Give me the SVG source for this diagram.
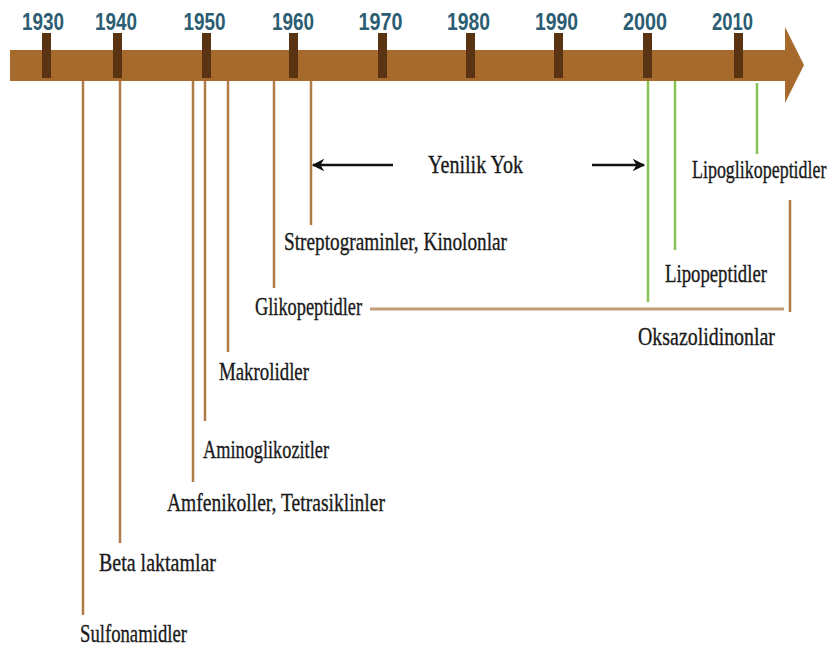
<svg xmlns="http://www.w3.org/2000/svg" width="831" height="649" viewBox="0 0 831 649">
<defs>
<style>
.yr{font-family:"Liberation Sans",Arial,sans-serif;font-weight:bold;font-size:24px;fill:#2c5d72;text-anchor:middle}
.tick{fill:#5a3312}
.lbl{font-family:"Liberation Serif","Times New Roman",serif;font-size:26px;fill:#1a1a1a;stroke:#1a1a1a;stroke-width:0.35}
.br{stroke:#b07b47;stroke-width:2.5;fill:none}
.gr{stroke:#86c254;stroke-width:2.5;fill:none}
.hz{stroke:#c39c78;stroke-width:3;fill:none}
.ar{stroke:#111;stroke-width:2.5;fill:none}
</style>
<marker id="ah" viewBox="0 0 10 10" refX="9" refY="5" markerWidth="5" markerHeight="5" orient="auto-start-reverse" markerUnits="strokeWidth">
<path d="M0,0 L10,5 L0,10 L3,5 Z" fill="#111"/>
</marker>
</defs>
<rect width="831" height="649" fill="#fff"/>
<g id="axis">
<rect x="10" y="50" width="776" height="31" fill="#a76a2d"/>
<polygon points="785,27 804,65 785,103" fill="#a76a2d"/>
<rect class="tick" x="42" y="33" width="9" height="45"/>
<rect class="tick" x="113" y="33" width="9" height="45"/>
<rect class="tick" x="202" y="33" width="9" height="45"/>
<rect class="tick" x="289" y="33" width="9" height="45"/>
<rect class="tick" x="378" y="33" width="9" height="45"/>
<rect class="tick" x="466" y="33" width="9" height="45"/>
<rect class="tick" x="554" y="33" width="9" height="45"/>
<rect class="tick" x="643" y="33" width="9" height="45"/>
<rect class="tick" x="734" y="33" width="9" height="45"/>
<text class="yr" x="43" y="30" textLength="42" lengthAdjust="spacingAndGlyphs">1930</text>
<text class="yr" x="116" y="30" textLength="42" lengthAdjust="spacingAndGlyphs">1940</text>
<text class="yr" x="204.5" y="30" textLength="42" lengthAdjust="spacingAndGlyphs">1950</text>
<text class="yr" x="293" y="30" textLength="42" lengthAdjust="spacingAndGlyphs">1960</text>
<text class="yr" x="380.5" y="30" textLength="44" lengthAdjust="spacingAndGlyphs">1970</text>
<text class="yr" x="468.5" y="30" textLength="43" lengthAdjust="spacingAndGlyphs">1980</text>
<text class="yr" x="556.5" y="30" textLength="43" lengthAdjust="spacingAndGlyphs">1990</text>
<text class="yr" x="645" y="30" textLength="44" lengthAdjust="spacingAndGlyphs">2000</text>
<text class="yr" x="732.5" y="30" textLength="41" lengthAdjust="spacingAndGlyphs">2010</text>
</g>
<g id="connectors">
<line class="br" x1="83" y1="81" x2="83" y2="615"/>
<line class="br" x1="120" y1="81" x2="120" y2="543"/>
<line class="br" x1="193" y1="81" x2="193" y2="482"/>
<line class="br" x1="205" y1="81" x2="205" y2="421"/>
<line class="br" x1="228" y1="81" x2="228" y2="352"/>
<line class="br" x1="274" y1="81" x2="274" y2="288"/>
<line class="br" x1="311" y1="81" x2="311" y2="225"/>
<line class="gr" x1="648" y1="81" x2="648" y2="302"/>
<line class="gr" x1="675" y1="81" x2="675" y2="250"/>
<line class="gr" x1="757" y1="83" x2="757" y2="154"/>
<line class="hz" x1="370" y1="309" x2="784" y2="309"/>
<line class="br" x1="790" y1="200" x2="790" y2="312"/>
<line class="ar" x1="393" y1="165" x2="313" y2="165" marker-end="url(#ah)"/>
<line class="ar" x1="592" y1="165" x2="644" y2="165" marker-end="url(#ah)"/>
</g>
<g id="sulfonamidler"><text class="lbl" x="80" y="642" textLength="107" lengthAdjust="spacingAndGlyphs">Sulfonamidler</text></g>
<g id="beta-laktamlar"><text class="lbl" x="99" y="571" textLength="117" lengthAdjust="spacingAndGlyphs">Beta laktamlar</text></g>
<g id="amfenikoller"><text class="lbl" x="167" y="511" textLength="218" lengthAdjust="spacingAndGlyphs">Amfenikoller, Tetrasiklinler</text></g>
<g id="aminoglikozitler"><text class="lbl" x="203" y="458" textLength="126" lengthAdjust="spacingAndGlyphs">Aminoglikozitler</text></g>
<g id="makrolidler"><text class="lbl" x="219" y="380" textLength="90" lengthAdjust="spacingAndGlyphs">Makrolidler</text></g>
<g id="glikopeptidler"><text class="lbl" x="255" y="315" textLength="107" lengthAdjust="spacingAndGlyphs">Glikopeptidler</text></g>
<g id="streptograminler"><text class="lbl" x="284" y="250" textLength="223" lengthAdjust="spacingAndGlyphs">Streptograminler, Kinolonlar</text></g>
<g id="yenilik-yok"><text class="lbl" x="428" y="173" textLength="95" lengthAdjust="spacingAndGlyphs">Yenilik Yok</text></g>
<g id="lipoglikopeptidler"><text class="lbl" transform="translate(692,178) scale(0.69,1)" x="0" y="0">Lipoglikopeptidler</text></g>
<g id="lipopeptidler"><text class="lbl" x="665" y="282" textLength="102" lengthAdjust="spacingAndGlyphs">Lipopeptidler</text></g>
<g id="oksazolidinonlar"><text class="lbl" x="638" y="345" textLength="137" lengthAdjust="spacingAndGlyphs">Oksazolidinonlar</text></g>
</svg>
